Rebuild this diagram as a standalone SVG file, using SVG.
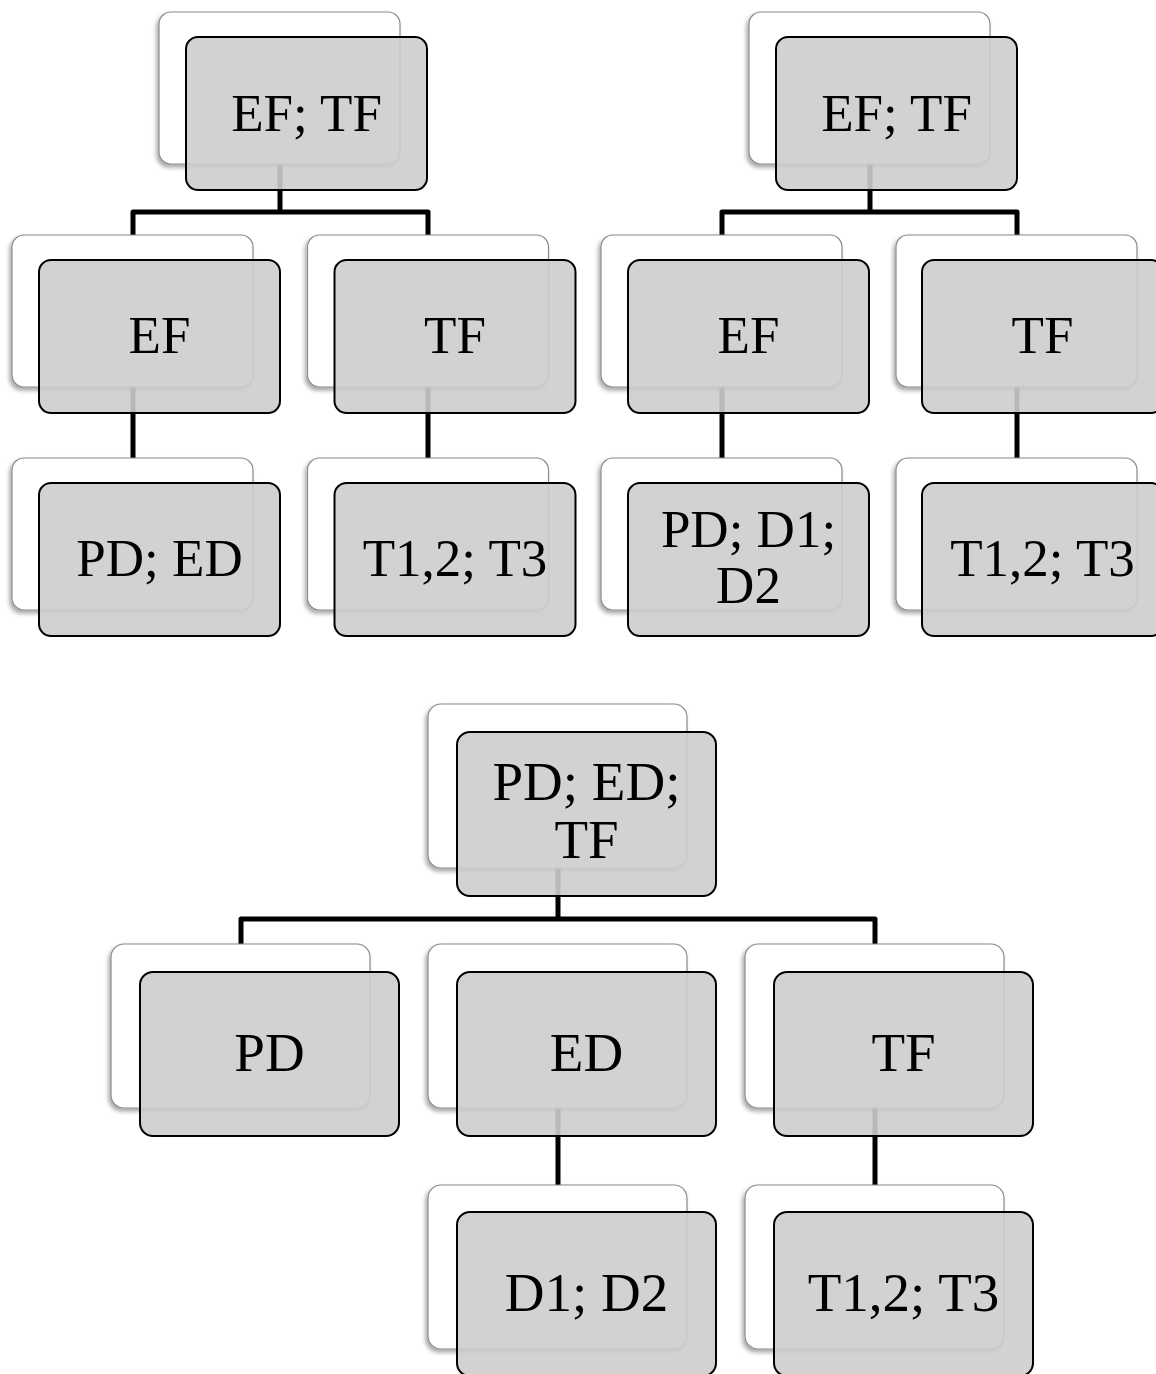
<svg xmlns="http://www.w3.org/2000/svg" width="1156" height="1374" viewBox="0 0 1156 1374">
<defs>
<filter id="sh" x="-10%" y="-10%" width="120%" height="125%">
<feDropShadow dx="-2" dy="3" stdDeviation="2" flood-color="#000" flood-opacity="0.35"/>
</filter>
</defs>
<style>
.back{fill:#fff;stroke:#8a8a8a;stroke-width:1.2;filter:url(#sh)}
.front{fill:#cdcdcd;fill-opacity:0.9;stroke:#000;stroke-width:2}
.t{font-family:"Liberation Serif","Times New Roman",serif;font-size:53px;text-anchor:middle;fill:#000}
.t3{font-size:55px}
.c{fill:none;stroke:#000;stroke-width:5;stroke-linejoin:round}
</style>
<rect width="1156" height="1374" fill="#fff"/>
<g id="connectors">
<path class="c" d="M133,235 V212 H428 V235 M280,164 V212 M133,387 V458 M428,387 V458"/>
<path class="c" d="M722,235 V212 H1017 V235 M870,164 V212 M722,387 V458 M1017,387 V458"/>
<path class="c" d="M241,944 V919 H875 V944 M558,868 V919 M558,1108 V1185 M875,1108 V1185"/>
</g>
<g id="t1-root">
<rect class="back" x="159" y="12" width="241" height="152" rx="12"/>
<rect class="front" x="186" y="37" width="241" height="153" rx="12"/>
<text class="t" x="306.5" y="131">EF; TF</text>
</g>
<g id="t1-ef">
<rect class="back" x="12" y="235" width="241" height="152" rx="12"/>
<rect class="front" x="39" y="260" width="241" height="153" rx="12"/>
<text class="t" x="159.5" y="353">EF</text>
</g>
<g id="t1-tf">
<rect class="back" x="307.5" y="235" width="241" height="152" rx="12"/>
<rect class="front" x="334.5" y="260" width="241" height="153" rx="12"/>
<text class="t" x="455" y="353">TF</text>
</g>
<g id="t1-pded">
<rect class="back" x="12" y="458" width="241" height="152" rx="12"/>
<rect class="front" x="39" y="483" width="241" height="153" rx="12"/>
<text class="t" x="159.5" y="576">PD; ED</text>
</g>
<g id="t1-t123">
<rect class="back" x="307.5" y="458" width="241" height="152" rx="12"/>
<rect class="front" x="334.5" y="483" width="241" height="153" rx="12"/>
<text class="t" x="455" y="576">T1,2; T3</text>
</g>
<g id="t2-root">
<rect class="back" x="749" y="12" width="241" height="152" rx="12"/>
<rect class="front" x="776" y="37" width="241" height="153" rx="12"/>
<text class="t" x="896.5" y="131">EF; TF</text>
</g>
<g id="t2-ef">
<rect class="back" x="601" y="235" width="241" height="152" rx="12"/>
<rect class="front" x="628" y="260" width="241" height="153" rx="12"/>
<text class="t" x="748.5" y="353">EF</text>
</g>
<g id="t2-tf">
<rect class="back" x="896" y="235" width="241" height="152" rx="12"/>
<rect class="front" x="922" y="260" width="241" height="153" rx="12"/>
<text class="t" x="1042.5" y="353">TF</text>
</g>
<g id="t2-pdd1d2">
<rect class="back" x="601" y="458" width="241" height="152" rx="12"/>
<rect class="front" x="628" y="483" width="241" height="153" rx="12"/>
<text class="t" x="748.5" y="547">PD; D1;</text>
<text class="t" x="748.5" y="603">D2</text>
</g>
<g id="t2-t123">
<rect class="back" x="896" y="458" width="241" height="152" rx="12"/>
<rect class="front" x="922" y="483" width="241" height="153" rx="12"/>
<text class="t" x="1042.5" y="576">T1,2; T3</text>
</g>
<g id="t3-root">
<rect class="back" x="428" y="704" width="259" height="164" rx="13"/>
<rect class="front" x="457" y="732" width="259" height="164" rx="13"/>
<text class="t t3" x="586.5" y="800">PD; ED;</text>
<text class="t t3" x="586.5" y="858">TF</text>
</g>
<g id="t3-pd">
<rect class="back" x="111" y="944" width="259" height="164" rx="13"/>
<rect class="front" x="140" y="972" width="259" height="164" rx="13"/>
<text class="t t3" x="269.5" y="1071">PD</text>
</g>
<g id="t3-ed">
<rect class="back" x="428" y="944" width="259" height="164" rx="13"/>
<rect class="front" x="457" y="972" width="259" height="164" rx="13"/>
<text class="t t3" x="586.5" y="1071">ED</text>
</g>
<g id="t3-tf">
<rect class="back" x="745" y="944" width="259" height="164" rx="13"/>
<rect class="front" x="774" y="972" width="259" height="164" rx="13"/>
<text class="t t3" x="903.5" y="1071">TF</text>
</g>
<g id="t3-d1d2">
<rect class="back" x="428" y="1185" width="259" height="164" rx="13"/>
<rect class="front" x="457" y="1212" width="259" height="164" rx="13"/>
<text class="t t3" x="586.5" y="1311">D1; D2</text>
</g>
<g id="t3-t123">
<rect class="back" x="745" y="1185" width="259" height="164" rx="13"/>
<rect class="front" x="774" y="1212" width="259" height="164" rx="13"/>
<text class="t t3" x="903.5" y="1311">T1,2; T3</text>
</g>
</svg>
